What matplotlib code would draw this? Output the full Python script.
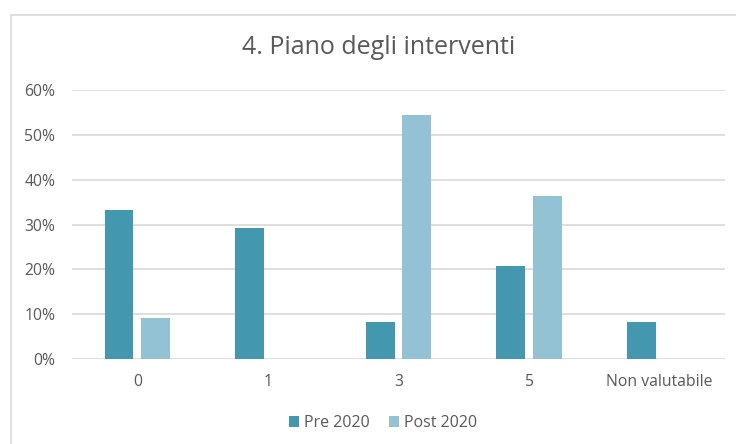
#!/usr/bin/env python
# coding: utf-8

    #========= IMPORTS ===================================================#

import numpy as np
import matplotlib
matplotlib.use("Agg")
import matplotlib.pyplot as plt
from matplotlib.patches import Rectangle
from matplotlib.ticker import PercentFormatter

    #========= DATA ======================================================#

CATEGORIES = ["0", "1", "3", "5", "Non valutabile"]
PRE_2020 = [33.3, 29.2, 8.3, 20.8, 8.3]
POST_2020 = [9.1, 0.0, 54.5, 36.4, 0.0]
SERIES = ["Pre 2020", "Post 2020"]

    #========= STYLE =====================================================#

COLORS = ["#4397AF", "#93C2D4"]
TEXT = "#595959"
GRID = "#D9D9D9"
plt.rcParams["font.family"] = ["Open Sans", "DejaVu Sans"]

    #========= FIGURE ====================================================#

W, H = 736, 444
fig = plt.figure(figsize=(W/100, H/100), dpi=100)
ax = fig.add_axes([72/W, 1-359/H, (725-72)/W, (359-90)/H])

x = np.arange(len(CATEGORIES))
width = 0.22
gap = 0.06
ax.bar(x - (width+gap)/2, PRE_2020, width, color=COLORS[0], label=SERIES[0], zorder=3)
ax.bar(x + (width+gap)/2, [v if v > 0 else np.nan for v in POST_2020], width,
       color=COLORS[1], label=SERIES[1], zorder=3)

ax.set_xlim(-0.5, len(CATEGORIES)-0.5)
ax.set_ylim(0, 60)
ax.set_yticks(range(0, 61, 10))
ax.yaxis.set_major_formatter(PercentFormatter(decimals=0))
ax.grid(axis="y", color=GRID, linewidth=1.2, zorder=0)
for s in ax.spines.values():
    s.set_visible(False)
ax.tick_params(axis="both", length=0, colors=TEXT, labelsize=11.3)
ax.tick_params(axis="y", pad=12)
ax.tick_params(axis="x", pad=11)
ax.set_xticks(x)
ax.set_xticklabels(CATEGORIES)

fig.text(379/W, 1-47/H, "4. Piano degli interventi", ha="center", va="center",
         fontsize=18, color=TEXT)

leg = fig.legend(loc="center", bbox_to_anchor=(383/W, 1-423/H), ncol=2, frameon=False,
                 handlelength=0.65, handleheight=0.65, handletextpad=0.3, columnspacing=1.2,
                 fontsize=11.5, labelcolor=TEXT)

fig.patches.append(Rectangle((11/W, -0.05), 1.0, 1-15/H+0.05, transform=fig.transFigure,
                             fill=False, edgecolor=GRID, linewidth=1.2))

fig.savefig("out.png", dpi=100)
